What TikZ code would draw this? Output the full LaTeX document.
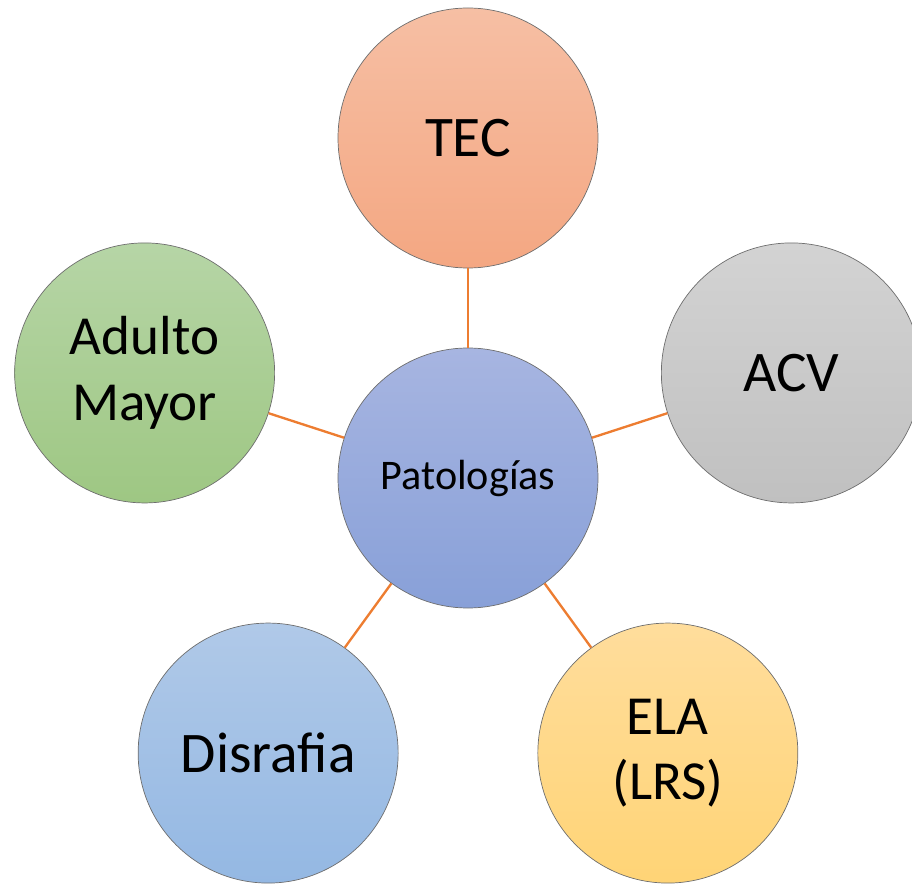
\documentclass[tikz,border=0pt]{standalone}
\usepackage{fontspec}
\setmainfont{Carlito}
\definecolor{linkorange}{RGB}{237,125,49}
\definecolor{rimgray}{RGB}{110,110,110}
\begin{document}
\begin{tikzpicture}[
    bubble/.style={circle, draw=rimgray, line width=0.6pt, minimum size=7.8cm,
      inner sep=0pt, align=center, font=\fontsize{49}{58}\selectfont},
    smalltext/.style={font=\fontsize{47}{56}\selectfont},
    link/.style={draw=linkorange, line width=2pt}
  ]
  \useasboundingbox (-14.04,-12.21) rectangle (13.32,14.34);
  \draw
    (0:0) node[bubble, top color={rgb,255:red,167;green,181;blue,225}, bottom color={rgb,255:red,136;green,160;blue,216}, font=\fontsize{36}{44}\selectfont] (pat){Patologías}
    (90:10.2) node[bubble, top color={rgb,255:red,246;green,191;blue,164}, bottom color={rgb,255:red,244;green,167;blue,130}] (tec){TEC}
    (18:10.2) node[bubble, top color={rgb,255:red,211;green,211;blue,211}, bottom color={rgb,255:red,192;green,192;blue,192}] (acv){ACV}
    (-54:10.2) node[bubble, smalltext, top color={rgb,255:red,255;green,221;blue,156}, bottom color={rgb,255:red,255;green,212;blue,118}] (ela){ELA\\(LRS)}
    (-126:10.2) node[bubble, top color={rgb,255:red,176;green,201;blue,232}, bottom color={rgb,255:red,148;green,184;blue,227}] (dis){Disrafia}
    (162:10.2) node[bubble, smalltext, top color={rgb,255:red,182;green,213;blue,166}, bottom color={rgb,255:red,158;green,199;blue,131}] (adm){Adulto\\Mayor};
  \begin{scope}[link]
    \draw (pat) to (tec);
    \draw (pat) to (acv);
    \draw (pat) to (ela);
    \draw (pat) to (dis);
    \draw (pat) to (adm);
  \end{scope}
\end{tikzpicture}
\end{document}
